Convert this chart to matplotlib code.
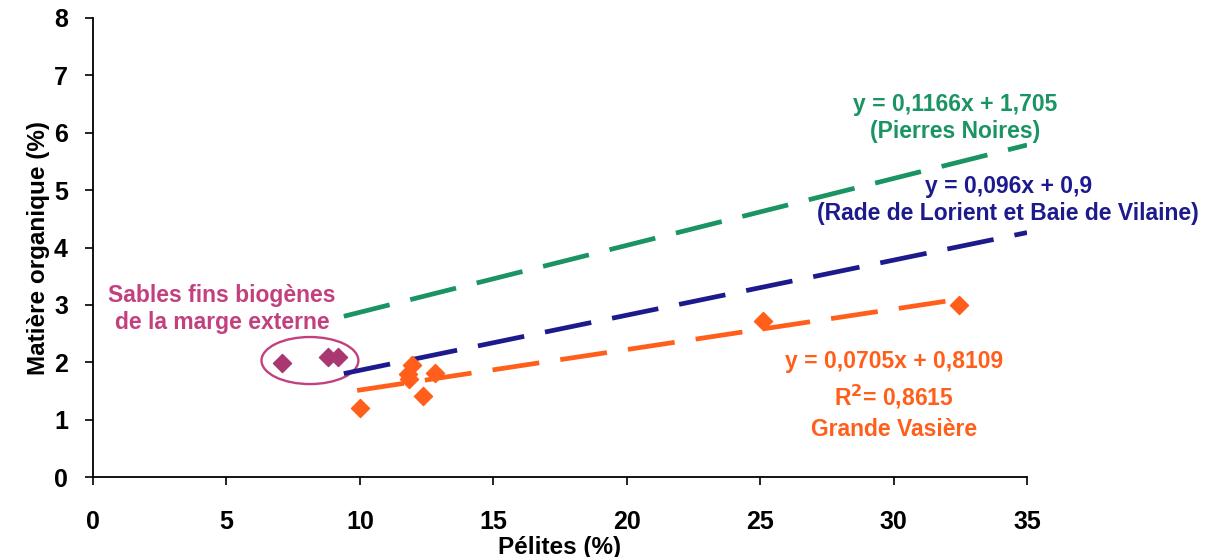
import matplotlib
matplotlib.use('Agg')
import matplotlib.pyplot as plt
from matplotlib.patches import Ellipse
import numpy as np

plt.rcParams['font.family'] = ['Liberation Sans', 'DejaVu Sans']
plt.rcParams['font.weight'] = 'bold'

# Grande Vasière points
gv_x = [10.0, 11.8, 11.95, 11.85, 12.35, 12.8, 25.1, 32.45]
gv_y = [1.2, 1.8, 1.95, 1.7, 1.42, 1.81, 2.72, 3.0]
# Sables fins biogènes
sb_x = [7.07, 8.8, 9.2]
sb_y = [1.99, 2.1, 2.1]

# regression lines: (slope, intercept, x start, x end)
green_fit = (0.1166, 1.705, 9.4, 35.0)
blue_fit = (0.096, 0.9, 9.4, 35.0)
orange_fit = (0.0705, 0.8109, 9.9, 32.4)

c_green = '#1a9463'
c_blue = '#1c1a8c'
c_orange = '#ff5f1a'
c_purple = '#c2407e'
c_point_purple = '#a8386f'

fig = plt.figure(figsize=(12.2, 5.57), dpi=100)
ax = fig.add_axes([0.0762, 0.1436, 0.7656, 0.8241])

for (a, b, x0, x1), col in [(green_fit, c_green), (blue_fit, c_blue), (orange_fit, c_orange)]:
    xs = np.array([x0, x1])
    ax.plot(xs, a * xs + b, color=col, lw=3.4, dashes=(10, 4.5), zorder=2)

ax.scatter(gv_x, gv_y, marker='D', s=85, color=c_orange, zorder=3)
ax.scatter(sb_x, sb_y, marker='D', s=85, color=c_point_purple, zorder=3)

ax.add_patch(Ellipse((8.13, 2.03), 3.63, 0.82, fill=False, edgecolor=c_purple, lw=1.7))

ax.text(32.3, 6.26, 'y = 0,1166x + 1,705\n(Pierres Noires)', color=c_green,
        fontsize=16.5, ha='center', va='center', linespacing=1.2)
ax.text(34.3, 4.83, 'y = 0,096x + 0,9\n(Rade de Lorient et Baie de Vilaine)', color=c_blue,
        fontsize=16.5, ha='center', va='center', linespacing=1.2, clip_on=False)
ax.text(30.0, 1.42, 'y = 0,0705x + 0,8109\nR$^2$= 0,8615\nGrande Vasière', color=c_orange,
        fontsize=16.5, ha='center', va='center', linespacing=1.4)
ax.text(4.83, 2.93, 'Sables fins biogènes\nde la marge externe', color=c_purple,
        fontsize=16.5, ha='center', va='center', linespacing=1.2)

ax.set_xlim(0, 35)
ax.set_ylim(0, 8)
ax.set_xticks(range(0, 36, 5))
ax.set_yticks(range(0, 9))
ax.spines['top'].set_visible(False)
ax.spines['right'].set_visible(False)
ax.spines['left'].set_linewidth(1.3)
ax.spines['bottom'].set_linewidth(1.3)
ax.tick_params(direction='out', length=6, width=1.2, labelsize=18, pad=18)
ax.tick_params(axis='y', pad=12)
ax.set_xlabel('Pélites (%)', fontsize=17.5, fontweight='bold', labelpad=1)
ax.set_ylabel('Matière organique (%)', fontsize=17.5, fontweight='bold', labelpad=3)

fig.savefig('out.png', dpi=100)
